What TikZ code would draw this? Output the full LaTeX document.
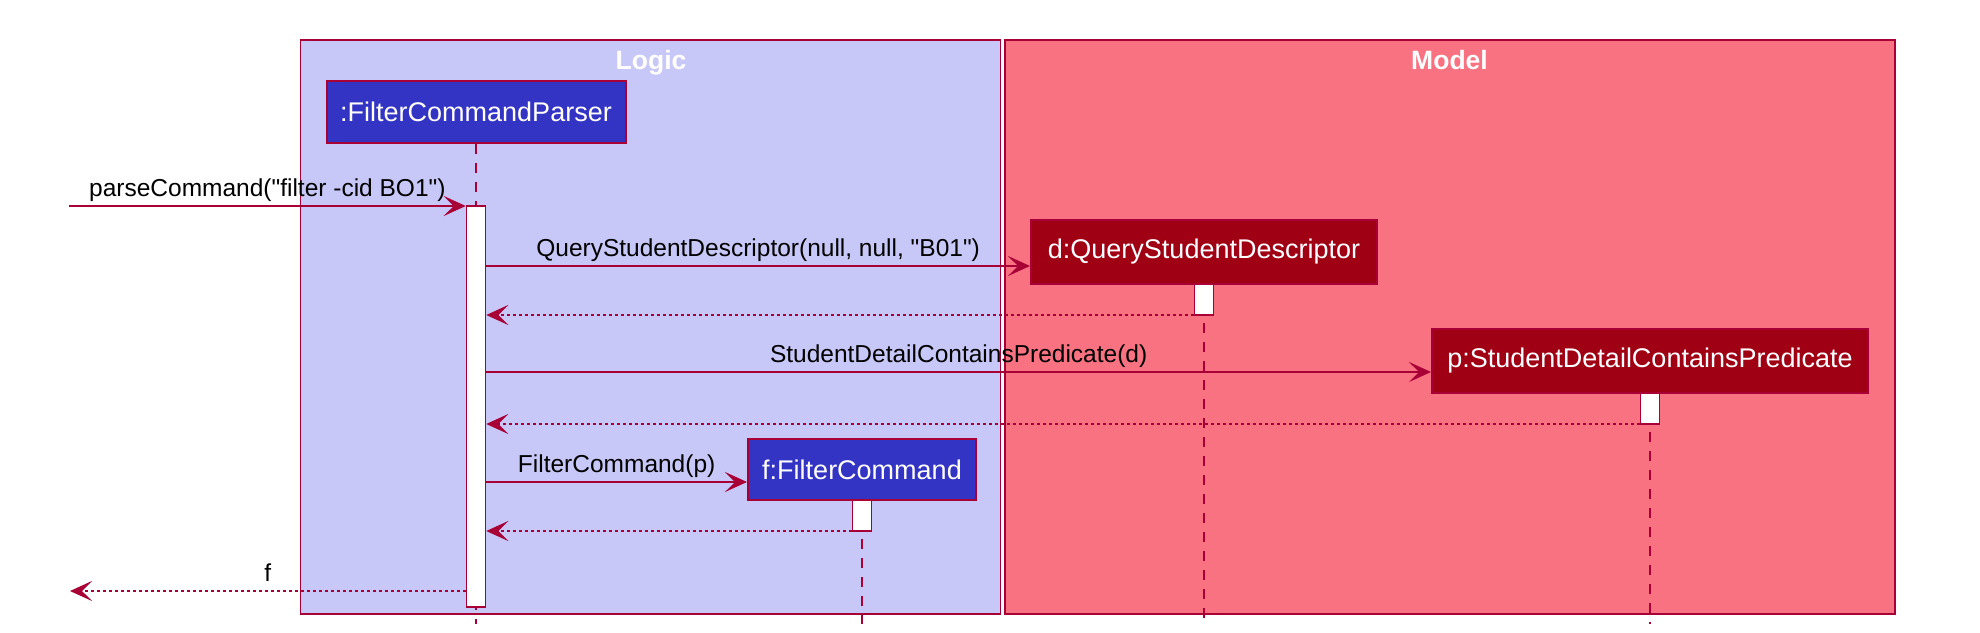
\documentclass[tikz,border=0pt]{standalone}
\usepackage{fontspec}
\setmainfont{Liberation Sans}[Ligatures=TeXOff]
\usetikzlibrary{arrows.meta}
\definecolor{umlred}{HTML}{A80036}
\definecolor{logicbg}{HTML}{C8C8F8}
\definecolor{modelbg}{HTML}{F97281}
\definecolor{logicfill}{HTML}{3333C4}
\definecolor{modelfill}{HTML}{A00014}

\begin{document}
\begin{tikzpicture}[
			x=1pt, y=-1pt,
			>={Stealth[length=22pt,width=20pt,inset=10pt]},
			every node/.style = {font=\fontsize{24.5}{28}\selectfont, inner sep=0pt},
			grpbox/.style     = {draw=umlred, line width=1.5pt},
			grptitle/.style   = {text=white, font=\fontsize{26.5}{30}\selectfont\bfseries, anchor=base},
			logicobj/.style   = {draw=umlred, line width=2pt, fill=logicfill, text=white, font=\fontsize{27}{30}\selectfont},
			modelobj/.style   = {draw=umlred, line width=2pt, fill=modelfill, text=white, font=\fontsize{27}{30}\selectfont},
			actbar/.style     = {draw=umlred, line width=1.5pt, fill=white, minimum width=19pt},
			lifeline/.style   = {draw=umlred, line width=1.3pt, dash pattern=on 10pt off 9pt},
			msg/.style        = {->, draw=umlred, line width=1.5pt},
			ret/.style        = {msg, dash pattern=on 3pt off 3pt},
			msglabel/.style   = {midway, anchor=base, yshift=10pt}
			]
			\useasboundingbox (0,0) rectangle (1980,632);
			
			%--- packages ---
			\node[grpbox, fill=logicbg, minimum width=700pt, minimum height=574pt] (logic) at (650.5,327) {};
			\node[grpbox, fill=modelbg, minimum width=890pt, minimum height=574pt] (model) at (1450,327) {};
			\node[grptitle] (logicTitle) at (651,69) {Logic};
			\node[grptitle] (modelTitle) at (1449.5,69) {Model};
			
			%--- objects ---
			\node[logicobj, minimum width=299pt, minimum height=62pt] (fcp)  at (476,112)   {:FilterCommandParser};
			\node[modelobj, minimum width=346pt, minimum height=64pt] (qsd)  at (1204,252)  {d:QueryStudentDescriptor};
			\node[modelobj, minimum width=436pt, minimum height=64pt] (pred) at (1650,361)  {p:StudentDetailContainsPredicate};
			\node[logicobj, minimum width=228pt, minimum height=61pt] (fcmd) at (862,469.5) {f:FilterCommand};
			
			%--- lifelines ---
			\coordinate (bottom) at (0,624);
			\draw[lifeline] (fcp.south)  -- (fcp |- bottom);
			\draw[lifeline] (qsd.south)  -- (qsd |- bottom);
			\draw[lifeline] (pred.south) -- (pred |- bottom);
			\draw[lifeline] (fcmd.south) -- (fcmd |- bottom);
			
			%--- activations ---
			\node[actbar, minimum height=401pt] (actFcp)  at (476,406.5)  {};
			\node[actbar, minimum height=31pt]  (actQsd)  at (1204,299.5) {};
			\node[actbar, minimum height=31pt]  (actPred) at (1650,408.5) {};
			\node[actbar, minimum height=31pt]  (actFcmd) at (862,515.5)  {};
			
			%--- message rows ---
			\coordinate (caller)    at (69,206);
			\coordinate (callerRet) at (70,591);
			\coordinate (r2) at (0,266);
			\coordinate (r3) at (0,315);
			\coordinate (r4) at (0,372);
			\coordinate (r5) at (0,424);
			\coordinate (r6) at (0,482);
			\coordinate (r7) at (0,531);
			
			%--- messages (arrows) ---
			\draw[msg] (caller) -- (actFcp.west |- caller) node[msglabel] {parseCommand("filter -cid BO1")};
			\draw[msg] (actFcp.east |- r2) -- (qsd.west |- r2) node[msglabel] {QueryStudentDescriptor(null, null, "B01")};
			\draw[ret] (actQsd.west |- r3) -- (actFcp.east |- r3);
			\draw[msg] (actFcp.east |- r4) -- (pred.west |- r4) node[msglabel] {StudentDetailContainsPredicate(d)};
			\draw[ret] (actPred.west |- r5) -- (actFcp.east |- r5);
			\draw[msg] (actFcp.east |- r6) -- (fcmd.west |- r6) node[msglabel] {FilterCommand(p)};
			\draw[ret] (actFcmd.west |- r7) -- (actFcp.east |- r7);
			\draw[ret] (actFcp.west |- callerRet) -- (callerRet) node[msglabel] {f};
		\end{tikzpicture}
\end{document}
